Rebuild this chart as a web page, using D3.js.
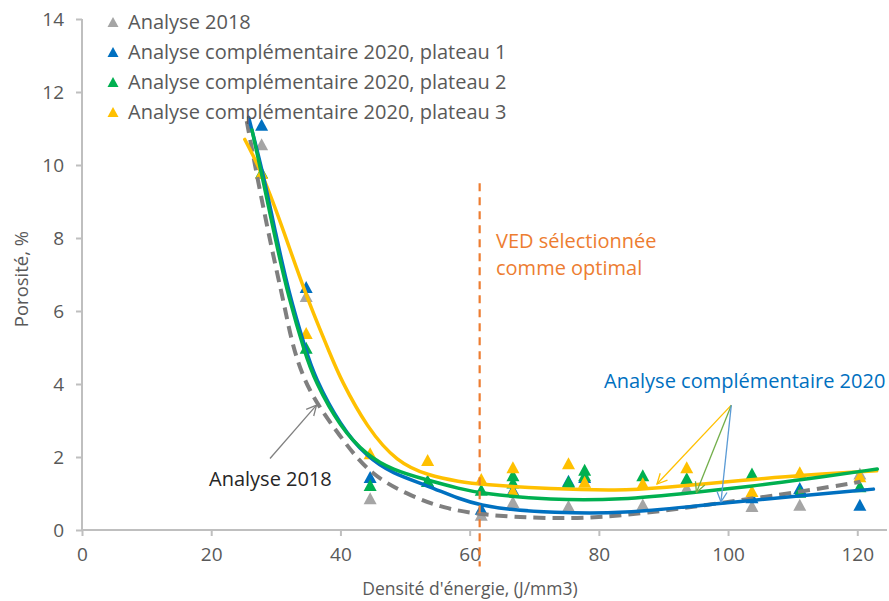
<!DOCTYPE html>
<html><head><meta charset="utf-8">
<script src="https://cdn.jsdelivr.net/npm/d3@7"></script>
<style>
html,body{margin:0;padding:0;background:#fff;}
text{font-family:"Open Sans",sans-serif;}
</style></head>
<body><svg id="chart" width="889" height="601"></svg>
<script>
// ---------- data ----------
const xTicks = [0, 20, 40, 60, 80, 100, 120];
const yTicks = [0, 2, 4, 6, 8, 10, 12, 14];
const seriesNames = ["Analyse 2018", "Analyse complémentaire 2020, plateau 1", "Analyse complémentaire 2020, plateau 2", "Analyse complémentaire 2020, plateau 3"];
const seriesColors = ["#A5A5A5", "#0070C0", "#00B050", "#FFC000"];

const pts2018 = [[27.8,10.57],[34.7,6.41],[44.6,0.87],[61.8,0.42],[66.7,0.77],[75.3,0.66],[86.8,0.7],[93.6,1.15],[103.7,0.66],[111.1,0.69],[120.4,1.55]];
const ptsPlateau1 = [[27.8,11.1],[34.7,6.66],[44.6,1.45],[53.5,1.35],[61.8,0.58],[66.7,1.1],[75.3,1.35],[77.8,1.45],[103.7,0.9],[111.1,1.15],[120.4,0.69]];
const ptsPlateau2 = [[27.8,9.8],[34.7,4.99],[44.6,1.23],[53.5,1.34],[61.8,1.1],[66.7,1.5],[66.7,1.3],[75.3,1.32],[77.8,1.65],[77.8,1.5],[86.8,1.5],[93.6,1.42],[103.7,1.55],[111.1,1.05],[120.4,1.2]];
const ptsPlateau3 = [[27.8,9.78],[34.7,5.4],[44.6,2.1],[53.5,1.92],[61.8,1.4],[66.7,1.72],[66.7,1.07],[75.3,1.83],[77.8,1.32],[86.8,1.28],[93.6,1.72],[103.7,1.07],[111.1,1.58],[120.4,1.47]];

// trend lines
const trend2018 = [[25.5,11.2],[27.3,9.5],[29.4,7.67],[31.4,6.1],[32.5,5.1],[34.8,3.84],[40,2.55],[44.6,1.5],[51.3,0.9],[56,0.6],[61.8,0.41],[72.5,0.3],[83.3,0.36],[98.8,0.74],[111,1.04],[120.5,1.32]];
const trendPlateau1 = [[25.8,11.3],[28,9.8],[30,8.1],[32,6.5],[34.6,4.95],[36,4.2],[40,2.85],[44.1,2.0],[48,1.55],[53.4,1.22],[58.5,0.84],[61.8,0.68],[66,0.56],[72.5,0.48],[83.3,0.43],[98.8,0.74],[111,0.93],[122.5,1.12]];
const trendPlateau2 = [[26.3,10.96],[28,9.6],[30,7.9],[32,6.35],[34.5,4.85],[36,4.1],[40,2.8],[44.1,2.05],[48,1.65],[53.4,1.37],[58.5,1.13],[61.8,1.0],[72.5,0.82],[83.3,0.82],[95.2,1.04],[103.6,1.2],[111,1.37],[123.1,1.67]];
const trendPlateau3 = [[25.2,10.7],[28,9.75],[31.4,8.1],[34.7,6.4],[38.7,4.7],[40,4.15],[44.1,2.8],[48.8,1.85],[53.5,1.5],[58.5,1.32],[61.8,1.25],[72.5,1.12],[83.3,1.08],[89,1.14],[103.6,1.38],[111,1.5],[123,1.62]];

const vedX = 61.55;
const vedLabel = ["VED sélectionnée", "comme optimal"];
const note2020 = "Analyse complémentaire 2020";
const note2018 = "Analyse 2018";
const xTitle = "Densité d'énergie, (J/mm3)";
const yTitle = "Porosité, %";

// ---------- drawing ----------
const svg = d3.select("#chart");
const x = d3.scaleLinear().domain([0, 124.6]).range([82, 887]);
const y = d3.scaleLinear().domain([0, 14]).range([530, 19]);
const axisColor = "#BFBFBF", labelColor = "#595959";

// axes
const gy = svg.append("g").attr("transform", `translate(${x(0)},0)`)
  .call(d3.axisLeft(y).tickValues(yTicks).tickSize(6).tickPadding(12).tickFormat(d3.format("d")));
const gx = svg.append("g").attr("transform", `translate(0,${y(0)})`)
  .call(d3.axisBottom(x).tickValues(xTicks).tickSize(6).tickPadding(12).tickFormat(d3.format("d")));
[gx, gy].forEach(g => {
  g.selectAll(".domain").attr("stroke", axisColor).attr("stroke-width", 2);
  g.selectAll(".tick line").attr("stroke", axisColor).attr("stroke-width", 2);
  g.selectAll(".tick text").attr("fill", labelColor).attr("font-size", 19).attr("font-family", "Open Sans");
});
gx.select(".domain").attr("d", `M${x(0)},0H${x.range()[1]}`);
gy.select(".domain").attr("d", `M0,${y(0)}V${y(14)}`);

// titles
svg.append("text").attr("x", 470).attr("y", 595).attr("text-anchor", "middle")
  .attr("fill", labelColor).attr("font-size", 17.5).text(xTitle);
svg.append("text").attr("transform", "translate(28,279) rotate(-90)").attr("text-anchor", "middle")
  .attr("fill", labelColor).attr("font-size", 18.5).text(yTitle);

// markers
const tri = (w, h) => `M0,${-h/2}L${w/2},${h/2}L${-w/2},${h/2}Z`;
const allPts = [pts2018, ptsPlateau1, ptsPlateau2, ptsPlateau3];
allPts.forEach((pts, i) => {
  svg.append("g").selectAll("path").data(pts).join("path")
    .attr("d", tri(13, 12))
    .attr("transform", d => `translate(${x(d[0])},${y(d[1])})`)
    .attr("fill", seriesColors[i]);
});

// trend lines
const line = d3.line().x(d => x(d[0])).y(d => y(d[1])).curve(d3.curveBasis);
svg.append("path").datum(trend2018).attr("d", line).attr("fill", "none")
  .attr("stroke", "#7F7F7F").attr("stroke-width", 4).attr("stroke-dasharray", "12,7");
[[trendPlateau3, "#FFC000"], [trendPlateau1, "#0070C0"], [trendPlateau2, "#00B050"]].forEach(([t, c]) => {
  svg.append("path").datum(t).attr("d", line).attr("fill", "none")
    .attr("stroke", c).attr("stroke-width", 3.5).attr("stroke-linecap", "round");
});

// VED line
svg.append("line").attr("x1", x(vedX)).attr("x2", x(vedX)).attr("y1", y(9.5)).attr("y2", y(-1))
  .attr("stroke", "#ED7D31").attr("stroke-width", 2.2).attr("stroke-dasharray", "8,6");
svg.append("text").attr("x", 496).attr("fill", "#ED7D31").attr("font-size", 20)
  .selectAll("tspan").data(vedLabel).join("tspan")
  .attr("x", 496).attr("y", (d, i) => 248 + i * 27).text(d => d);

// annotation arrows
const defs = svg.append("defs");
function arrowMarker(id, color) {
  defs.append("marker").attr("id", id).attr("viewBox", "0 0 12 12").attr("refX", 11).attr("refY", 6)
    .attr("markerWidth", 12).attr("markerHeight", 12).attr("markerUnits", "userSpaceOnUse").attr("orient", "auto")
    .append("path").attr("d", "M1,1L11,6L1,11").attr("fill", "none").attr("stroke", color).attr("stroke-width", 1.3);
}
arrowMarker("aY", "#FFC000"); arrowMarker("aG", "#70AD47"); arrowMarker("aB", "#5B9BD5"); arrowMarker("aK", "#808080");
const arrowFrom2020 = [100.5, 3.42];
const arrowTargets = [[[89.0, 1.26], "#FFC000", "aY"], [[95.1, 1.03], "#70AD47", "aG"], [[98.9, 0.77], "#5B9BD5", "aB"]];
arrowTargets.forEach(([t, c, m]) => {
  svg.append("line").attr("x1", x(arrowFrom2020[0])).attr("y1", y(arrowFrom2020[1]))
    .attr("x2", x(t[0])).attr("y2", y(t[1])).attr("stroke", c).attr("stroke-width", 1.3)
    .attr("marker-end", `url(#${m})`);
});
svg.append("line").attr("x1", x(29.1)).attr("y1", y(1.96)).attr("x2", x(36.3)).attr("y2", y(3.42))
  .attr("stroke", "#808080").attr("stroke-width", 1.3).attr("marker-end", "url(#aK)");

svg.append("text").attr("x", 604).attr("y", 388).attr("fill", "#0070C0").attr("font-size", 20).text(note2020);
svg.append("text").attr("x", 209).attr("y", 486).attr("fill", "#262626").attr("font-size", 20).text(note2018);

// legend
const lg = svg.append("g");
seriesNames.forEach((n, i) => {
  const cy = 22 + i * 30;
  lg.append("path").attr("d", tri(11, 10)).attr("transform", `translate(113,${cy})`).attr("fill", seriesColors[i]);
  lg.append("text").attr("x", 128).attr("y", cy + 7).attr("fill", labelColor).attr("font-size", 20).text(n);
});
</script>
</body></html>
